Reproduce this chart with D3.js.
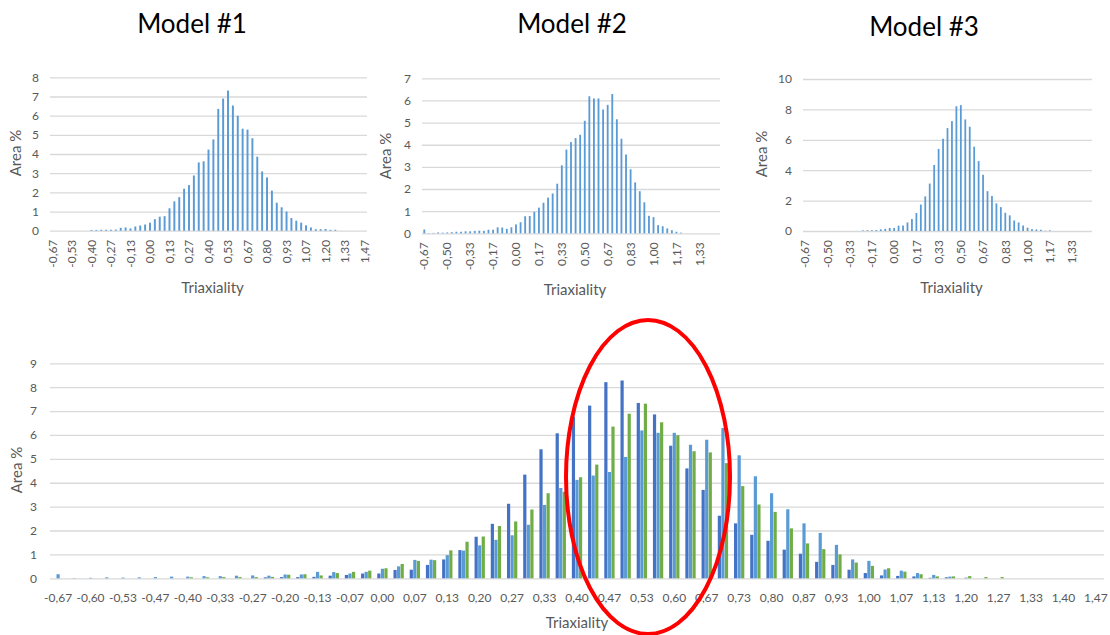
<!DOCTYPE html>
<html>
<head>
<meta charset="utf-8">
<script src="https://cdn.jsdelivr.net/npm/d3@7"></script>
<style>
  body { margin: 0; background: #fff; }
  svg text { font-family: Lato, "Open Sans", sans-serif; }
</style>
</head>
<body>
<svg width="1110" height="635"></svg>
<script>
"use strict";

// triaxiality bins (1/30 wide), written the way Excel shows them
const categories = [
  "-0,67", "-0,63", "-0,60", "-0,57", "-0,53", "-0,50", "-0,47", "-0,43", "-0,40", "-0,37",
  "-0,33", "-0,30", "-0,27", "-0,23", "-0,20", "-0,17", "-0,13", "-0,10", "-0,07", "-0,03",
  "0,00", "0,03", "0,07", "0,10", "0,13", "0,17", "0,20", "0,23", "0,27", "0,30",
  "0,33", "0,37", "0,40", "0,43", "0,47", "0,50", "0,53", "0,57", "0,60", "0,63",
  "0,67", "0,70", "0,73", "0,77", "0,80", "0,83", "0,87", "0,90", "0,93", "0,97",
  "1,00", "1,03", "1,07", "1,10", "1,13", "1,17", "1,20", "1,23", "1,27", "1,30",
  "1,33", "1,37", "1,40", "1,43", "1,47"
];

// area % per bin
const model1 = [
  0, 0, 0, 0, 0, 0, 0, 0, 0.04, 0.04,
  0.05, 0.05, 0.05, 0.06, 0.15, 0.17, 0.12, 0.22, 0.27, 0.32,
  0.42, 0.60, 0.73, 0.76, 1.17, 1.53, 1.75, 2.19, 2.38, 2.88,
  3.56, 3.62, 4.23, 4.76, 6.35, 6.89, 7.31, 6.53, 5.99, 5.32,
  5.27, 4.82, 3.86, 3.09, 2.78, 2.09, 1.46, 1.22, 1.00, 0.66,
  0.52, 0.42, 0.28, 0.17, 0.08, 0.08, 0.09, 0.05, 0.05, 0,
  0, 0, 0, 0, 0
];
const model2 = [
  0.17, 0.01, 0.02, 0.04, 0.03, 0.04, 0.05, 0.07, 0.07, 0.09,
  0.09, 0.11, 0.12, 0.11, 0.16, 0.16, 0.27, 0.26, 0.20, 0.27,
  0.40, 0.50, 0.77, 0.78, 0.97, 1.16, 1.38, 1.61, 1.80, 2.24,
  3.07, 3.78, 4.12, 4.30, 4.45, 5.08, 6.19, 6.09, 6.09, 5.59,
  5.80, 6.29, 5.15, 4.27, 3.56, 2.89, 2.30, 1.90, 1.40, 0.79,
  0.73, 0.37, 0.32, 0.22, 0.14, 0.07, 0.03, 0, 0, 0,
  0, 0, 0, 0, 0
];
const model3 = [
  0, 0, 0, 0, 0, 0, 0, 0, 0, 0,
  0, 0, 0, 0.04, 0.05, 0.05, 0.06, 0.11, 0.14, 0.20,
  0.20, 0.35, 0.36, 0.56, 0.79, 1.18, 1.74, 2.28, 3.12, 4.34,
  5.40, 6.07, 6.77, 7.23, 8.21, 8.28, 7.34, 6.86, 5.55, 4.60,
  3.70, 2.62, 2.30, 1.82, 1.57, 1.20, 1.03, 0.69, 0.56, 0.36,
  0.22, 0.12, 0.10, 0.08, 0.02, 0.04, 0, 0, 0, 0,
  0, 0, 0, 0, 0
];

const titles = ["Model #1", "Model #2", "Model #3"];
const yMaxSmall = [8, 7, 10];
const yStepSmall = [1, 1, 2];
const labelEvery = [4, 5, 5];

// bottom chart series, in the order Excel draws them in each group
const seriesNames = ["Model #3", "Model #2", "Model #1"];
const seriesColors = ["#4472C4", "#5B9BD5", "#70AD47"];

window.addEventListener("load", drawAll);

function drawAll() {
  const svg = d3.select("svg");

  // small charts on top
  const boxes = [
    { left: 50, right: 367, top: 77.3, bottom: 230.7, yl: 16, ylY: 153, tx: 192, ty: 33 },
    { left: 422, right: 720, top: 78.3, bottom: 233.3, yl: 386, ylY: 156, tx: 572, ty: 33 },
    { left: 803, right: 1092, top: 79, bottom: 231, yl: 762, ylY: 154, tx: 924, ty: 36 }
  ];
  const smallData = [model1, model2, model3];

  boxes.forEach((b, i) => {
    drawSmall(svg, b, smallData[i], yMaxSmall[i], yStepSmall[i], labelEvery[i], titles[i]);
  });

  drawBig(svg);

  // hand-drawn red ring round the peak
  svg
    .append("ellipse")
    .attr("cx", 648)
    .attr("cy", 477)
    .attr("rx", 82)
    .attr("ry", 157)
    .attr("fill", "none")
    .attr("stroke", "#FF0000")
    .attr("stroke-width", 4);
}

function drawSmall(svg, b, values, yMax, yStep, every, title) {
  const g = svg.append("g");
  const width = b.right - b.left;

  const x = d3
    .scaleBand()
    .domain(categories)
    .range([b.left, b.right])
    .paddingInner(0.6)
    .paddingOuter(0.3);

  const y = d3.scaleLinear().domain([0, yMax]).range([b.bottom, b.top]);

  const yAxis = g
    .append("g")
    .attr("transform", `translate(${b.left},0)`)
    .call(
      d3
        .axisLeft(y)
        .tickValues(d3.range(0, yMax + 0.001, yStep))
        .tickFormat(d3.format("d"))
        .tickSize(-width)
        .tickPadding(11)
    );
  yAxis.select(".domain").remove();
  yAxis.selectAll("line").attr("stroke", "#D9D9D9").attr("stroke-width", 1.3);
  yAxis
    .selectAll("text")
    .attr("fill", "#595959")
    .style("font-size", "12px");

  g.selectAll(".bar")
    .data(values)
    .enter()
    .append("rect")
    .attr("class", "bar")
    .attr("x", (d, i) => x(categories[i]))
    .attr("y", (d) => y(d))
    .attr("width", x.bandwidth())
    .attr("height", (d) => y(0) - y(d))
    .attr("fill", "#5B9BD5");

  const xAxis = g
    .append("g")
    .attr("transform", `translate(0,${b.bottom})`)
    .call(
      d3
        .axisBottom(x)
        .tickValues(categories.filter((c, i) => i % every === 0))
        .tickSize(0)
        .tickPadding(0)
    );
  xAxis.select(".domain").remove();
  xAxis
    .selectAll("text")
    .attr("fill", "#595959")
    .style("font-size", "12px")
    .attr("text-anchor", "end")
    .attr("dy", "0.35em")
    .attr("transform", "translate(0,9) rotate(-90)")
    .attr("x", 0)
    .attr("y", 0);

  g.append("text")
    .attr("x", (b.left + b.right) / 2 + 4)
    .attr("y", b.bottom + 62)
    .attr("text-anchor", "middle")
    .attr("fill", "#595959")
    .style("font-size", "15px")
    .text("Triaxiality");

  g.append("text")
    .attr("transform", `translate(${b.yl},${b.ylY}) rotate(-90)`)
    .attr("text-anchor", "middle")
    .attr("dy", "0.35em")
    .attr("fill", "#595959")
    .style("font-size", "15px")
    .text("Area %");

  g.append("text")
    .attr("x", b.tx)
    .attr("y", b.ty)
    .attr("text-anchor", "middle")
    .attr("fill", "#000")
    .style("font-size", "26px")
    .text(title);
}

function drawBig(svg) {
  const margin = { left: 50, right: 1104, top: 363.3, bottom: 578.3 };
  const width = margin.right - margin.left;
  const g = svg.append("g");
  const series = [model3, model2, model1];

  const x0 = d3
    .scaleBand()
    .domain(categories)
    .range([margin.left, margin.right])
    .paddingInner(0.32)
    .paddingOuter(0.16);

  const x1 = d3
    .scaleBand()
    .domain(seriesNames)
    .range([0, x0.bandwidth()])
    .padding(0.1);

  const y = d3.scaleLinear().domain([0, 9]).range([margin.bottom, margin.top]);

  const yAxis = g
    .append("g")
    .attr("transform", `translate(${margin.left},0)`)
    .call(d3.axisLeft(y).ticks(9).tickSize(-width).tickPadding(13));
  yAxis.select(".domain").remove();
  yAxis.selectAll("line").attr("stroke", "#D9D9D9").attr("stroke-width", 1.3);
  yAxis
    .selectAll("text")
    .attr("fill", "#595959")
    .style("font-size", "12px");

  const groups = g
    .selectAll(".group")
    .data(categories)
    .enter()
    .append("g")
    .attr("class", "group")
    .attr("transform", (c) => `translate(${x0(c)},0)`);

  groups
    .selectAll("rect")
    .data((c, i) => seriesNames.map((name, s) => ({ name, color: seriesColors[s], value: series[s][i] })))
    .enter()
    .append("rect")
    .attr("x", (d) => x1(d.name))
    .attr("y", (d) => y(d.value))
    .attr("width", x1.bandwidth())
    .attr("height", (d) => y(0) - y(d.value))
    .attr("fill", (d) => d.color);

  const xAxis = g
    .append("g")
    .attr("transform", `translate(0,${margin.bottom})`)
    .call(
      d3
        .axisBottom(x0)
        .tickValues(categories.filter((c, i) => i % 2 === 0))
        .tickSize(0)
        .tickPadding(15)
    );
  xAxis.select(".domain").remove();
  xAxis
    .selectAll("text")
    .attr("fill", "#595959")
    .style("font-size", "12px");

  g.append("text")
    .attr("x", 577)
    .attr("y", 628)
    .attr("text-anchor", "middle")
    .attr("fill", "#595959")
    .style("font-size", "15px")
    .text("Triaxiality");

  g.append("text")
    .attr("transform", `translate(17,470) rotate(-90)`)
    .attr("text-anchor", "middle")
    .attr("dy", "0.35em")
    .attr("fill", "#595959")
    .style("font-size", "15px")
    .text("Area %");
}
</script>
</body>
</html>
